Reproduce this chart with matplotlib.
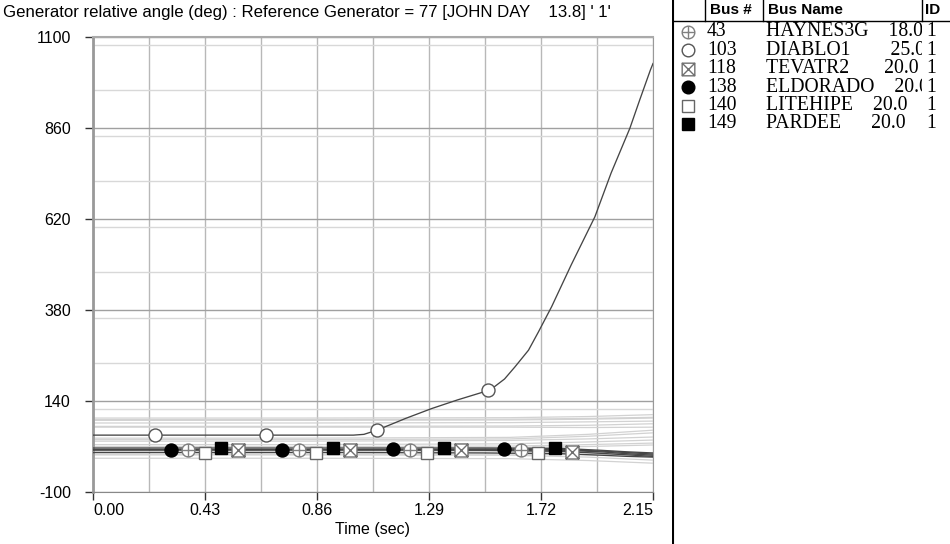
import numpy as np
import matplotlib
matplotlib.use('Agg')
import matplotlib.pyplot as plt
from matplotlib.path import Path
from matplotlib.ticker import MultipleLocator, FixedLocator

# ---- data -------------------------------------------------------------
title = "Generator relative angle (deg) : Reference Generator = 77 [JOHN DAY    13.8] ' 1'"

bus_nums = [43, 103, 118, 138, 140, 149]
bus_labels = ['HAYNES3G    18.0', 'DIABLO1        25.0', 'TEVATR2       20.0',
              'ELDORADO    20.0', 'LITEHIPE    20.0', 'PARDEE      20.0']
bus_ids = ['1', '1', '1', '1', '1', '1']

# highlighted generators (time, angle)
flat_t = [0.0, 0.5, 1.0, 1.5, 1.8, 1.95, 2.05, 2.15]
haynes = [11, 11, 11, 11, 10, 6, 1, -3]
tevatr = [11, 11, 11, 10, 7, 2, -2, -6]
eldorado = [12, 12, 12, 13, 12, 8, 4, 0]
litehipe = [4, 4, 4, 3, 1, -3, -6, -8]
pardee = [16, 16, 16, 16, 15, 10, 6, 3]

diablo_t = [0.0, 0.5, 1.0, 1.04, 1.09, 1.2, 1.3, 1.4, 1.5, 1.54, 1.58, 1.62,
            1.672, 1.71, 1.761, 1.836, 1.927, 1.989, 2.061, 2.099, 2.14, 2.15]
diablo = [50, 50, 50, 52, 63, 94, 120, 143, 164, 177, 198, 230,
          274, 322, 389, 499, 626, 741, 859, 934, 1013, 1030]

# all other generators (grey background lines)
light_t = [0.0, 0.8, 1.6, 1.9, 2.15]
light_vals = [
    [95, 95, 96, 99, 104],
    [91, 91, 92, 94, 97],
    [89, 89, 90, 92, 95],
    [82, 82, 83, 85, 87],
    [73, 73, 74, 76, 80],
    [71, 71, 71, 70, 71],
    [42, 42, 44, 52, 63],
    [38, 38, 40, 47, 56],
    [34, 34, 36, 40, 45],
    [25, 25, 27, 32, 37],
    [20, 20, 21, 25, 29],
    [16, 16, 17, 20, 24],
    [6, 6, 6, 4, 0],
    [-2, -2, -3, -8, -16],
    [-11, -11, -12, -17, -24],
]

# ---- marker shapes ----------------------------------------------------
circ_plus = Path.make_compound_path(
    Path.unit_circle(), Path([[-1, 0], [1, 0]]), Path([[0, -1], [0, 1]]))
sq = Path([[-1, -1], [1, -1], [1, 1], [-1, 1], [-1, -1]],
          [Path.MOVETO, Path.LINETO, Path.LINETO, Path.LINETO, Path.CLOSEPOLY])
box_x = Path.make_compound_path(
    sq, Path([[-1, -1], [1, 1]]), Path([[-1, 1], [1, -1]]))

styles = [
    dict(marker=circ_plus, mfc='white', mec='#808080'),
    dict(marker='o', mfc='white', mec='#555555'),
    dict(marker=box_x, mfc='white', mec='#707070'),
    dict(marker='o', mfc='black', mec='black'),
    dict(marker='s', mfc='white', mec='#666666'),
    dict(marker='s', mfc='black', mec='black'),
]
series = [(flat_t, haynes), (diablo_t, diablo), (flat_t, tevatr),
          (flat_t, eldorado), (flat_t, litehipe), (flat_t, pardee)]
mark_first = [0.364, 0.237, 0.558, 0.298, 0.429, 0.493]
mark_step = 0.427

plt.rcParams['font.family'] = ['Liberation Sans', 'DejaVu Sans']
fig = plt.figure(figsize=(9.5, 5.44), dpi=100)
W, H = 950, 544
ax = fig.add_axes([93 / W, 52 / H, (653 - 93) / W, (492 - 37) / H])

for vals in light_vals:
    ax.plot(light_t, vals, color='#d2d2d2', lw=0.9, zorder=2)
for (t, v), st, m0 in zip(series, styles, mark_first):
    ax.plot(t, v, color='#454545', lw=0.95, zorder=3)
    mt = m0 + mark_step * np.arange(4)
    ms = 12 if st['marker'] == 's' else 13
    ax.plot(mt, np.interp(mt, t, v), ls='none', ms=ms * 0.72, mew=1.0,
            zorder=4, **st)

ax.set_xlim(0, 2.15)
ax.set_ylim(-100, 1100)
xt = [0.0, 0.43, 0.86, 1.29, 1.72, 2.15]
ax.xaxis.set_major_locator(FixedLocator(xt))
ax.xaxis.set_minor_locator(MultipleLocator(0.215))
ax.set_xticklabels(['%.2f' % x for x in xt])
for lab, ha in zip(ax.get_xticklabels(), ['left'] + ['center'] * 4 + ['right']):
    lab.set_ha(ha)
ax.set_yticks(np.arange(-100, 1101, 240))
ax.set_yticklabels([str(v) for v in range(-100, 1101, 240)])
ax.yaxis.set_minor_locator(MultipleLocator(120))
ax.grid(True, which='major', axis='y', color='#a0a0a0', lw=1.0, zorder=1)
ax.grid(True, which='minor', axis='y', color='#d8d8d8', lw=1.0, zorder=1)
ax.grid(True, which='both', axis='x', color='#b8b8b8', lw=1.0, zorder=1)
ax.tick_params(which='major', length=6, width=1, color='#333333',
               labelsize=11.5)
ax.tick_params(axis='y', pad=10)
ax.tick_params(axis='x', pad=2)
ax.tick_params(which='minor', length=0)
ax.set_axisbelow(True)
ax.spines['left'].set_color('#999999')
ax.spines['left'].set_linewidth(2)
ax.spines['bottom'].set_color('#888888')
ax.spines['top'].set_color('#aaaaaa')
ax.spines['top'].set_linewidth(1.5)
ax.spines['right'].set_color('#999999')
ax.set_xlabel('Time (sec)', fontsize=11.5, labelpad=3)

fig.text(3 / W, 1 - 12 / H, title, fontsize=12.1, va='center', ha='left')

# ---- legend table -----------------------------------------------------
tab = fig.add_axes([672 / W, 0, (W - 672) / W, 1])
tab.set_xlim(672, W)
tab.set_ylim(H, 0)
tab.axis('off')
tab.axvline(672.5, color='black', lw=1.5)
tab.plot([672, W], [21, 21], color='black', lw=1)
for x in (705, 763, 922):
    tab.plot([x, x], [0, 21], color='black', lw=1)
hdr = dict(fontsize=11, fontweight='bold', va='center', ha='left')
tab.text(710, 10, 'Bus #', **hdr)
tab.text(768, 10, 'Bus Name', **hdr)
tab.text(925, 10, 'ID', **hdr)

# names are clipped at the ID column, like the original table
names = fig.add_axes([763 / W, 0, (922 - 763) / W, 1])
names.set_xlim(763, 922)
names.set_ylim(H, 0)
names.axis('off')

serif = dict(fontsize=14.2, family='Liberation Serif', va='center', ha='left')
for i, (num, lab, bid, st) in enumerate(zip(bus_nums, bus_labels,
                                            bus_ids, styles)):
    y = 32 + i * 18.4
    ms = 12 if st['marker'] == 's' else 13
    tab.plot([688], [y], ls='none', ms=ms * 0.7, mew=1.0, **st)
    tab.text(707, y, str(num), **serif)
    names.text(766, y, lab, clip_on=True, **serif)
    tab.text(926, y, bid, **serif)

fig.savefig('out.png', dpi=100)
